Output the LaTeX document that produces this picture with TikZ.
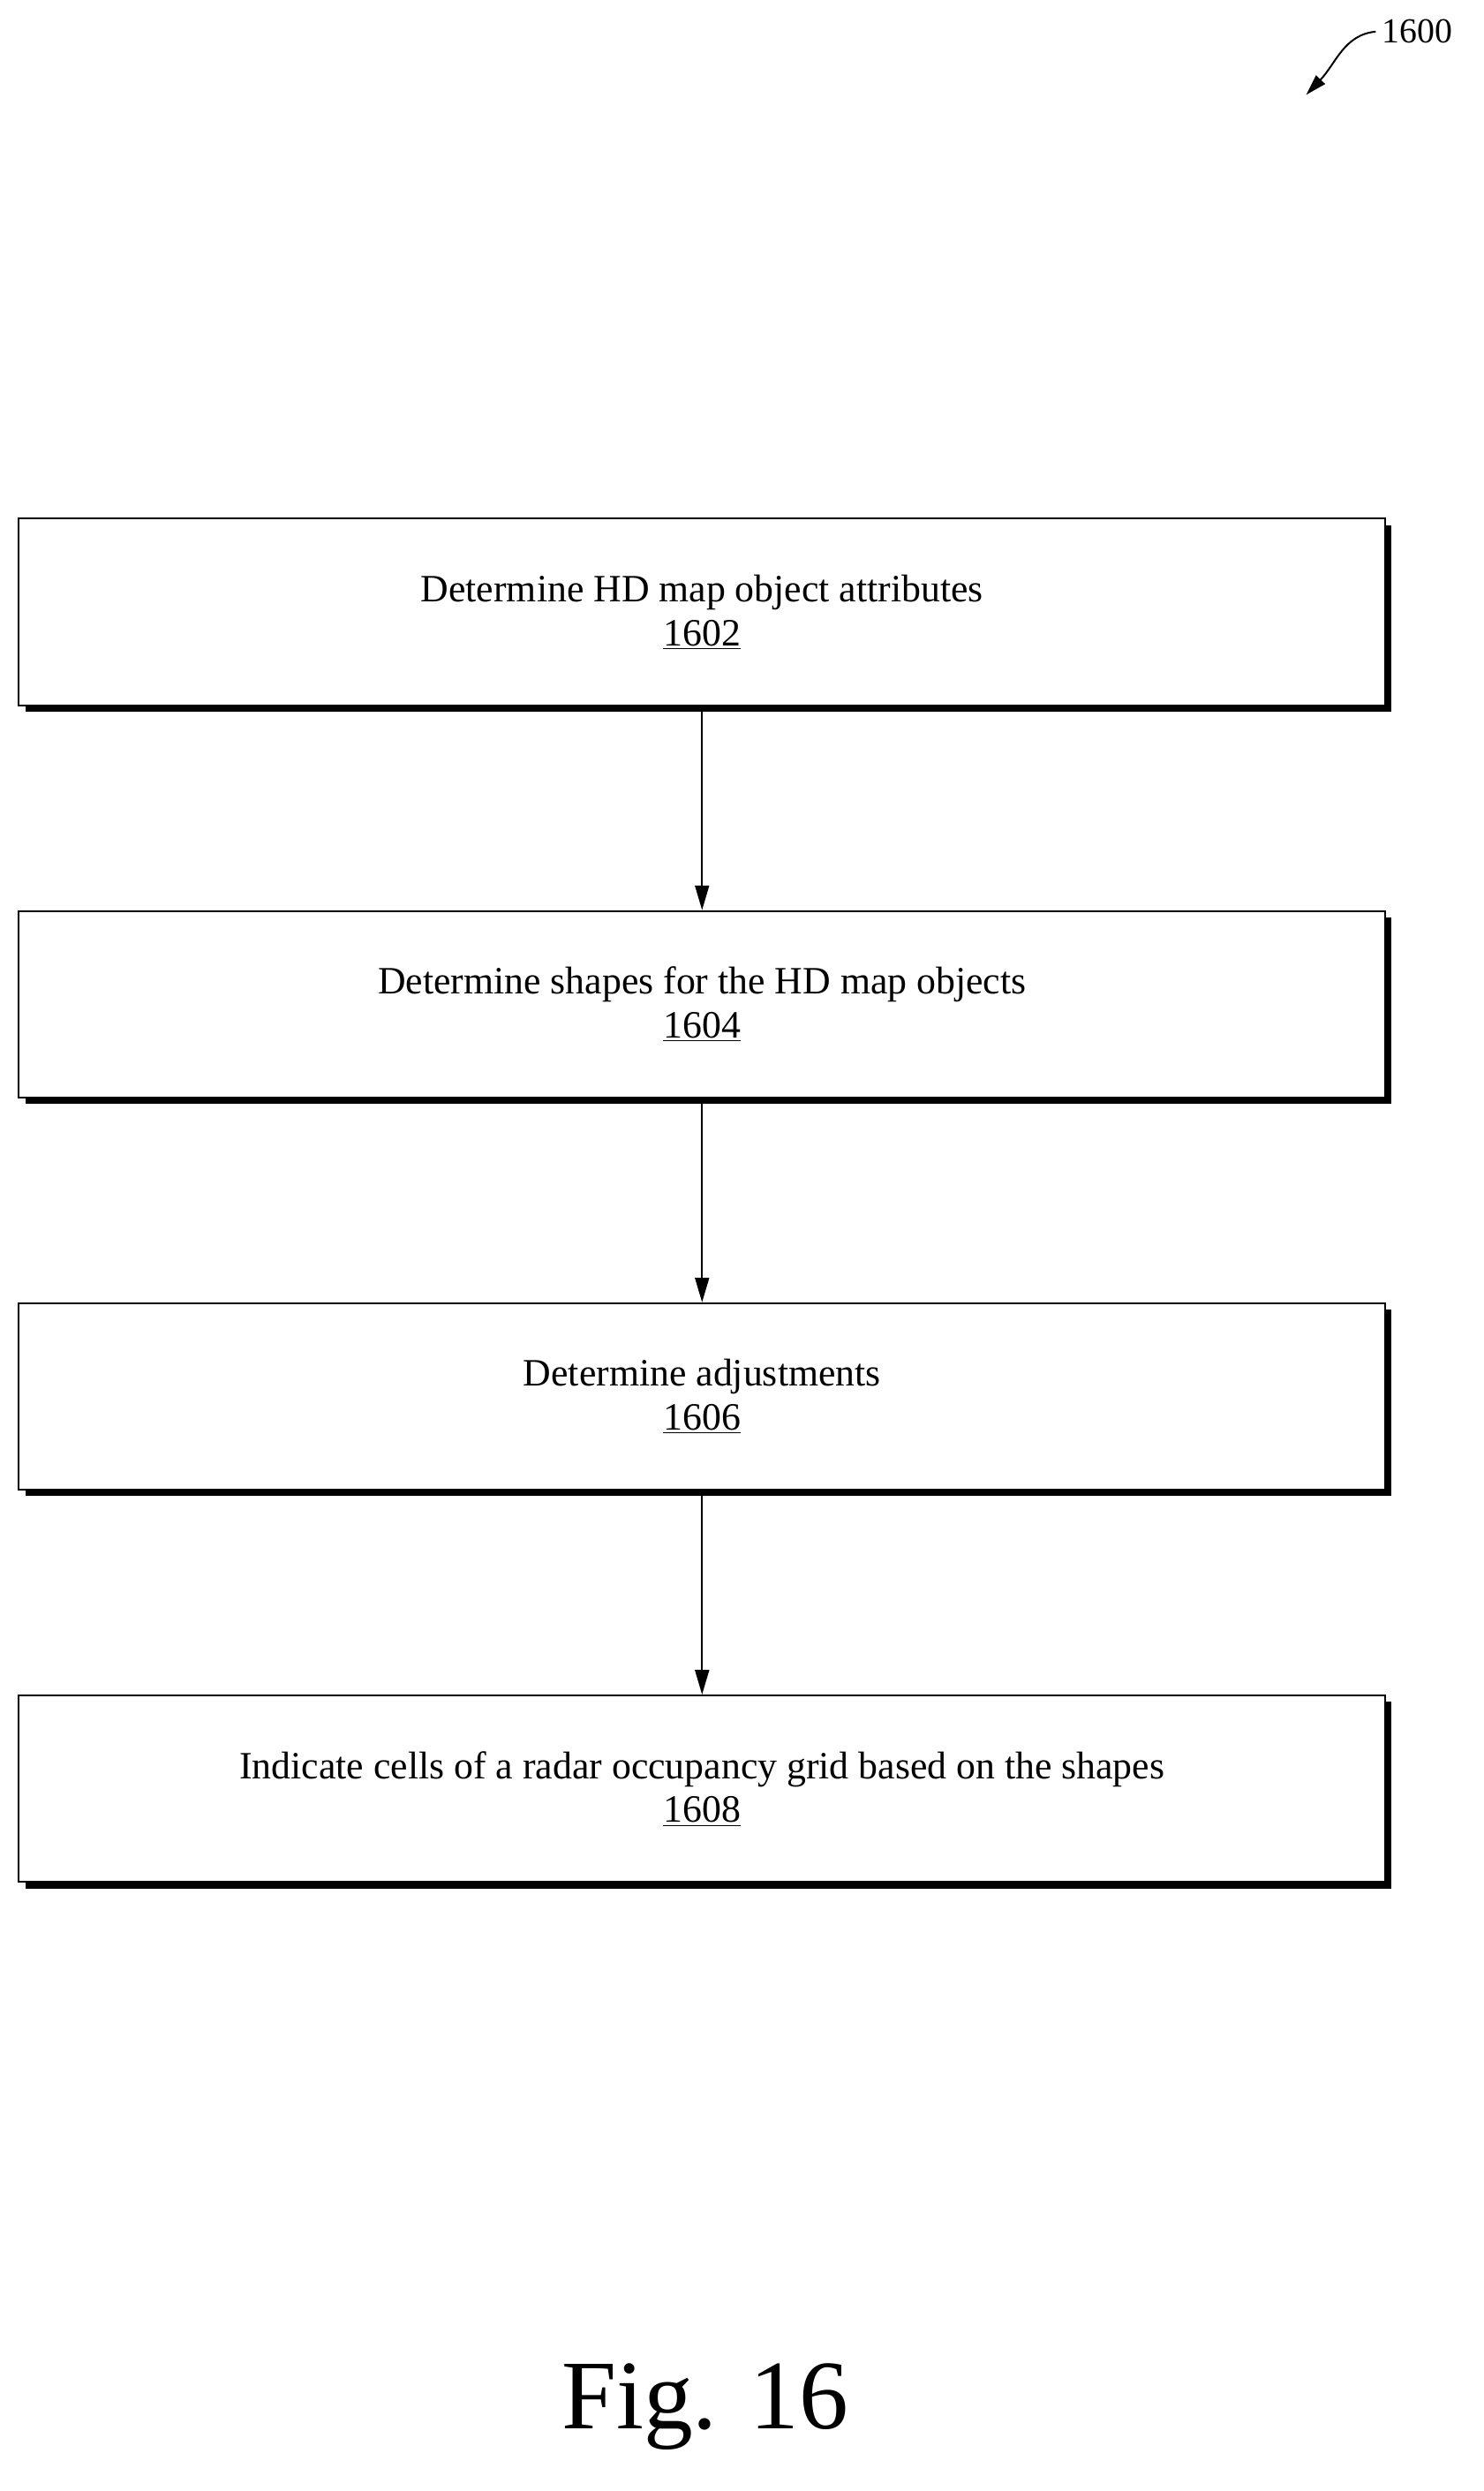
\documentclass[tikz,border=0pt]{standalone}
\usepackage{fontspec}
\setmainfont{Liberation Serif}
\usetikzlibrary{arrows.meta}
\begin{document}
\begin{tikzpicture}[x=0.9pt,y=-0.9pt,
  box/.style={draw,line width=1pt,fill=white,minimum width=864*0.9pt,minimum height=118*0.9pt,inner sep=0pt,align=center,font=\fontsize{22}{25}\selectfont},
  shadow/.style={fill=black},
  arr/.style={line width=1pt,-{Triangle[length=14pt,width=8pt]}}]
\useasboundingbox (0,0) rectangle (938,1575);
\foreach \n/\y/\t/\m in {a/387/Determine HD map object attributes/1602,b/635/Determine shapes for the HD map objects/1604,c/883/Determine adjustments/1606,d/1131/Indicate cells of a radar occupancy grid based on the shapes/1608}{
  \fill[shadow] (16,\y-55) rectangle (880,\y+63);
  \node[box] (\n) at (444,\y) {\t\\\underline{\m}};
}
\draw[arr] (a) -- (b);
\draw[arr] (b) -- (c);
\draw[arr] (c) -- (d);
\node[font=\fontsize{20}{24}\selectfont,anchor=west] (lbl) at (870,20) {1600};
\coordinate (e) at (826,60);
\draw[line width=1pt,-{Triangle[length=12pt,width=7pt]}] (lbl.west) .. controls (850,22) and (845,40) .. (e);
\node[font=\fontsize{56}{60}\selectfont] (fig) at (446,1522) {Fig. 16};
\end{tikzpicture}
\end{document}
